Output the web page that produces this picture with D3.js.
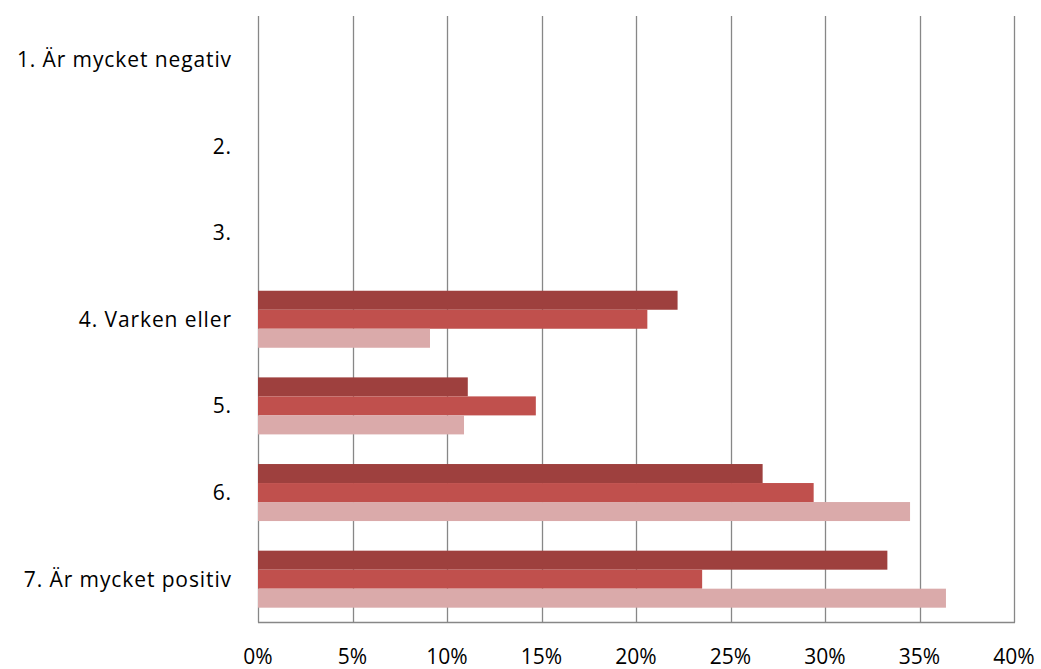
<!DOCTYPE html>
<html><head><meta charset="utf-8">
<script src="https://cdn.jsdelivr.net/npm/d3@7"></script>
<style>body{margin:0;background:#fff}svg{display:block}text{font-family:"Open Sans",Lato,sans-serif;fill:#000}</style>
</head><body><svg id="c" width="1041" height="669"></svg>
<script>
const categories = ["1. Är mycket negativ","2.","3.","4. Varken eller","5.","6.","7. Är mycket positiv"];
const seriesNames = ["Serie 1","Serie 2","Serie 3"];
const seriesA = [0,0,0,22.2,11.1,26.7,33.3];
const seriesB = [0,0,0,20.6,14.7,29.4,23.5];
const seriesC = [0,0,0,9.1,10.9,34.5,36.4];
const colors = ["#9E403E","#C0504D","#DAAAAA"];
const xTicks = [0,5,10,15,20,25,30,35,40];

const svg = d3.select("#c");
const m = {l:258, r:1014, t:16, b:622.5};
const x = d3.scaleLinear().domain([0,40]).range([m.l,m.r]);
const y = d3.scaleBand().domain(categories).range([m.t,m.b]).paddingInner(0.342).paddingOuter(0.171);
const values = [seriesA,seriesB,seriesC];
const ys = d3.scaleBand().domain(seriesNames).range([0,y.bandwidth()]);

svg.append("g").selectAll("line").data(xTicks).join("line")
  .attr("x1",d=>Math.round(x(d))+0.5).attr("x2",d=>Math.round(x(d))+0.5)
  .attr("y1",m.t).attr("y2",m.b).attr("stroke","#878787").attr("stroke-width",1.3);

values.forEach((vals,si)=>{
  svg.append("g").selectAll("rect").data(categories.map((c,i)=>({c,v:vals[i]})).filter(d=>d.v>0)).join("rect")
    .attr("x",x(0)).attr("y",d=>y(d.c)+ys(seriesNames[si]))
    .attr("width",d=>x(d.v)-x(0)).attr("height",ys.bandwidth())
    .attr("fill",colors[si]);
});

svg.append("line").attr("x1",m.l).attr("x2",m.r+1).attr("y1",m.b).attr("y2",m.b)
  .attr("stroke","#878787").attr("stroke-width",1.3);

svg.append("g").selectAll("text").data(xTicks).join("text")
  .attr("x",d=>x(d)).attr("y",664).attr("text-anchor","middle")
  .style("font-size","21px").text(d=>d+"%");

svg.append("g").selectAll("text").data(categories).join("text")
  .attr("x",232).attr("y",d=>y(d)+y.bandwidth()/2).attr("dy","0.36em")
  .attr("text-anchor","end").style("font-size","21px").style("letter-spacing","0.9px").text(d=>d);
</script></body></html>
